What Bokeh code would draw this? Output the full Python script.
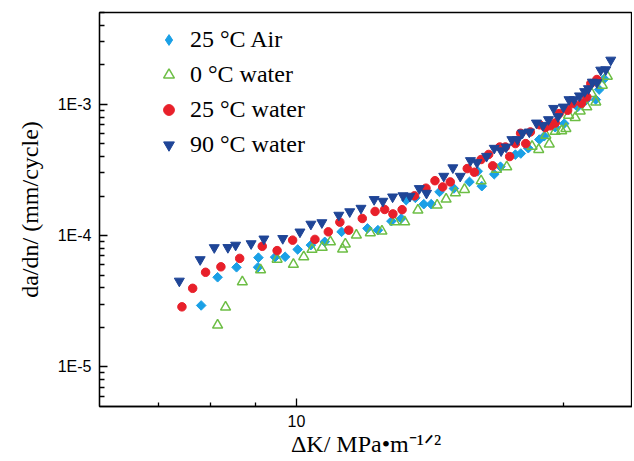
import math
from bokeh.plotting import figure
from bokeh.models import (FixedTicker, CustomJSTickFormatter, Legend, LegendItem, Range1d)
from bokeh.embed import file_html
from bokeh.resources import INLINE

# ---- data ----
air_dk = [7.81, 8.15, 8.56, 9.06, 9.05, 9.46, 9.71, 10.03, 10.38, 10.76, 11.24, 12.02,
          12.35, 12.79, 13.12, 13.29, 13.61, 13.91, 14.18, 14.49, 15.04, 15.66, 16.00,
          16.17, 16.70, 16.97, 17.64, 17.89, 18.24, 18.77, 19.01, 19.56, 20.02, 20.73,
          21.18, 21.73, 21.92, 22.21]
air_rate = [2.94e-5, 4.82e-5, 5.74e-5, 6.80e-5, 5.74e-5, 6.86e-5, 6.90e-5, 7.85e-5,
            8.47e-5, 8.97e-5, 1.069e-4, 1.135e-4, 1.101e-4, 1.289e-4, 1.351e-4, 1.862e-4,
            1.939e-4, 1.736e-4, 1.736e-4, 2.153e-4, 2.285e-4, 2.565e-4, 3.09e-4, 2.379e-4,
            2.935e-4, 3.35e-4, 4.14e-4, 4.22e-4, 4.63e-4, 5.39e-4, 5.71e-4, 6.69e-4,
            7.13e-4, 9.54e-4, 1.073e-3, 1.086e-3, 1.294e-3, 1.563e-3]

w0_dk = [8.15, 8.32, 8.69, 9.11, 9.51, 9.92, 10.19, 10.41, 10.69, 10.92, 11.27, 11.35,
         11.68, 12.11, 12.48, 12.90, 13.24, 13.70, 14.40, 14.74, 15.10, 15.46, 16.14,
         16.80, 17.25, 18.42, 18.74, 19.09, 19.26, 19.56, 19.89, 20.11, 20.25, 20.60,
         20.87, 21.23, 21.50, 21.73, 22.10, 22.39]
w0_rate = [2.08e-5, 2.85e-5, 4.44e-5, 5.49e-5, 6.60e-5, 6.04e-5, 6.90e-5, 7.85e-5,
           8.13e-5, 8.97e-5, 7.89e-5, 8.62e-5, 1.009e-4, 1.050e-4, 1.082e-4, 1.273e-4,
           1.273e-4, 1.563e-4, 1.706e-4, 1.895e-4, 2.116e-4, 2.245e-4, 2.61e-4, 3.19e-4,
           3.34e-4, 4.79e-4, 4.52e-4, 5.81e-4, 4.98e-4, 6.21e-4, 6.29e-4, 6.53e-4,
           8.25e-4, 7.92e-4, 8.89e-4, 9.54e-4, 1.206e-3, 1.041e-3, 1.394e-3, 1.633e-3]

w25_dk = [7.43, 7.64, 7.90, 8.22, 8.63, 9.15, 9.51, 9.90, 10.49, 10.86, 11.19, 11.45,
          11.86, 12.26, 12.57, 12.84, 13.15, 13.58, 13.99, 14.32, 14.61, 14.90, 15.57,
          15.86, 16.14, 16.46, 16.63, 16.94, 17.19, 17.38, 17.64, 17.88, 18.12, 18.34,
          18.79, 19.06, 19.31, 19.56, 19.76, 20.20, 20.45, 20.94, 21.23, 21.45, 21.79]
w25_rate = [2.87e-5, 3.97e-5, 5.26e-5, 5.79e-5, 6.71e-5, 8.29e-5, 7.69e-5, 9.24e-5,
            9.36e-5, 1.069e-4, 1.267e-4, 1.101e-4, 1.351e-4, 1.528e-4, 1.582e-4,
            1.464e-4, 1.577e-4, 2.008e-4, 2.297e-4, 2.62e-4, 2.35e-4, 2.565e-4, 3.24e-4,
            3.04e-4, 3.80e-4, 4.15e-4, 3.40e-4, 4.73e-4, 4.73e-4, 4.00e-4, 5.02e-4,
            6.02e-4, 5.02e-4, 6.16e-4, 6.98e-4, 6.65e-4, 6.86e-4, 7.21e-4, 8.50e-4,
            9.00e-4, 1.012e-3, 1.018e-3, 1.136e-3, 1.437e-3, 1.544e-3]

w90_dk = [7.38, 7.79, 8.08, 8.37, 8.54, 8.89, 9.19, 9.65, 10.09, 10.38, 10.68, 11.16,
          11.48, 11.82, 12.23, 12.51, 12.83, 13.18, 13.42, 13.75, 14.01, 14.65, 15.00,
          15.29, 15.70, 15.97, 16.37, 16.70, 17.00, 17.22, 17.48, 17.74, 17.97, 18.29,
          18.63, 18.95, 19.22, 19.48, 19.70, 19.98, 20.27, 20.55, 20.83, 21.11, 21.32,
          21.54, 21.79, 22.01, 22.30, 22.59]
w90_rate = [4.51e-5, 6.57e-5, 8.11e-5, 8.13e-5, 8.47e-5, 8.69e-5, 9.44e-5, 9.52e-5,
            1.067e-4, 1.224e-4, 1.256e-4, 1.432e-4, 1.522e-4, 1.618e-4, 1.885e-4,
            1.83e-4, 1.973e-4, 2.015e-4, 1.997e-4, 2.285e-4, 2.105e-4, 2.835e-4, 3.29e-4,
            2.835e-4, 3.73e-4, 3.60e-4, 4.02e-4, 4.63e-4, 4.43e-4, 4.73e-4, 5.39e-4,
            5.39e-4, 6.05e-4, 6.16e-4, 7.21e-4, 6.92e-4, 7.65e-4, 9.32e-4, 8.06e-4,
            9.54e-4, 1.086e-3, 1.086e-3, 1.160e-3, 1.251e-3, 1.316e-3, 1.477e-3,
            1.465e-3, 1.823e-3, 1.836e-3, 2.172e-3]

series_labels = ["25 \u00b0C Air", "0 \u00b0C water", "25 \u00b0C water", "90 \u00b0C water"]
x_major = [10]
x_minor = [7, 8, 9, 20]
y_major = [1e-5, 1e-4, 1e-3]
y_minor = [m * 10.0 ** e for e in (-6, -5, -4, -3) for m in range(2, 10)]

SERIF = "Liberation Serif"
SANS = "Liberation Sans"
C_AIR, C_W0, C_W25, C_W90 = "#1AA0E6", "#6DBE45", "#E8202A", "#1F4597"

p = figure(x_axis_type="log", y_axis_type="log",
           x_range=Range1d(6, 23.9), y_range=Range1d(5e-6, 5e-3),
           frame_width=533, frame_height=394,
           min_border_left=99, min_border_right=0, min_border_top=12, min_border_bottom=0,
           output_backend="svg", toolbar_location=None)
p.background_fill_color = "white"
p.border_fill_color = "white"
p.outline_line_color = "black"
p.outline_line_width = 1.3
p.xgrid.visible = False
p.ygrid.visible = False

for ax in (p.xaxis[0], p.yaxis[0]):
    ax.axis_line_width = 1.3
    ax.major_tick_line_width = 1.3
    ax.minor_tick_line_width = 1.3
    ax.major_tick_out = 0
    ax.minor_tick_out = 0
    ax.major_label_text_font = SANS
    ax.major_label_text_font_size = "16px"
    ax.major_label_text_color = "black"
    ax.major_label_standoff = 8
    ax.axis_label_text_font = SERIF
    ax.axis_label_text_font_size = "24px"
    ax.axis_label_text_font_style = "normal"
    ax.axis_label_text_color = "black"

p.xaxis[0].ticker = FixedTicker(ticks=x_major, minor_ticks=x_minor)
p.xaxis[0].formatter = CustomJSTickFormatter(code="return String(tick);")
p.xaxis[0].major_tick_in = 8
p.xaxis[0].minor_tick_in = 4
p.xaxis[0].axis_label = "\u0394K/ MPa\u2022m\u207b\u00b9\u141f\u00b2"
p.xaxis[0].axis_label_standoff = 1

p.yaxis[0].ticker = FixedTicker(ticks=y_major, minor_ticks=y_minor)
p.yaxis[0].formatter = CustomJSTickFormatter(
    code="return '1E' + Math.round(Math.log10(tick));")
p.yaxis[0].major_tick_in = 8
p.yaxis[0].minor_tick_in = 5
p.yaxis[0].axis_label = "da/dn/ (mm/cycle)"
p.yaxis[0].axis_label_standoff = 12

# legend swatch renderer for the air series (legend glyphs are never rotated,
# so a diamond marker is used for the key; it sits hidden under the rotated squares)
r_air_key = p.scatter(air_dk, air_rate, marker="diamond", size=6,
                      fill_color=C_AIR, line_color=C_AIR)
r_air = p.scatter(air_dk, air_rate, marker="square", angle=math.pi / 4, size=6.8,
                  fill_color=C_AIR, line_color=C_AIR)
r_w0 = p.scatter(w0_dk, w0_rate, marker="triangle", size=10, fill_color=None,
                 line_color=C_W0, line_width=1.5)
r_w25 = p.scatter(w25_dk, w25_rate, marker="circle", size=8.5,
                  fill_color=C_W25, line_color=C_W25)
r_w90 = p.scatter(w90_dk, w90_rate, marker="inverted_triangle", size=10,
                  fill_color=C_W90, line_color=C_W90)

legend = Legend(items=[LegendItem(label=series_labels[i], renderers=[r])
                       for i, r in enumerate([r_air_key, r_w0, r_w25, r_w90])],
                location=(56, 244), glyph_width=27, glyph_height=35, label_height=35,
                label_standoff=8, spacing=0, padding=0, margin=0,
                border_line_color=None, background_fill_alpha=0,
                label_text_font=SERIF, label_text_font_size="24px",
                label_text_color="black")
p.add_layout(legend)

open("out.html", "w").write(file_html(p, INLINE))
